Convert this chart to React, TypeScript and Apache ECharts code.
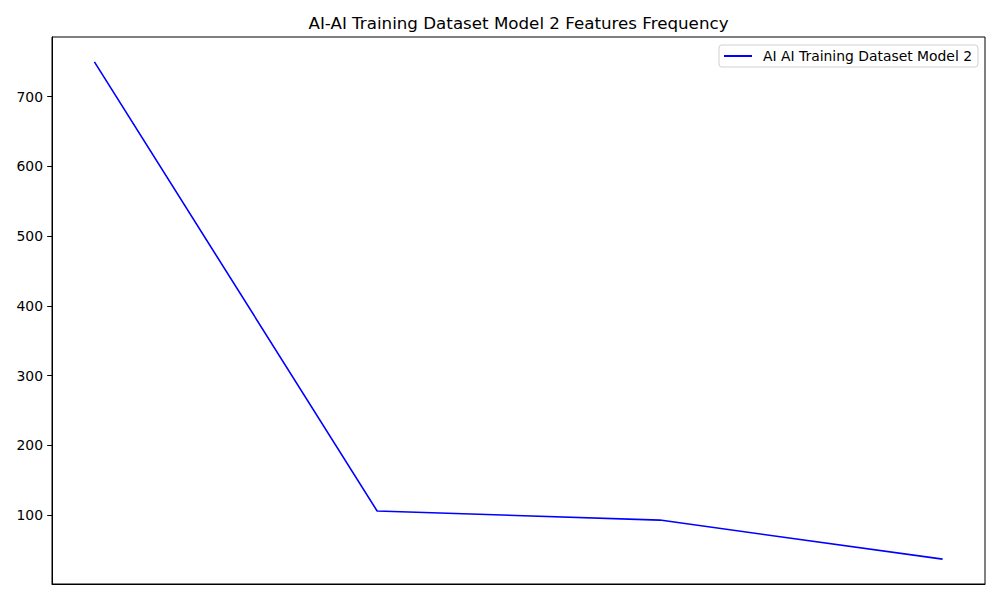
import React, { useEffect, useRef } from "react";
import * as echarts from "echarts";

const categories = ["Feature 1", "Feature 2", "Feature 3", "Feature 4"];
const frequencies = [750, 106, 93, 37];
const yTicks = [100, 200, 300, 400, 500, 600, 700];
const seriesName = "AI AI Training Dataset Model 2";
const titleText = "AI-AI Training Dataset Model 2 Features Frequency";

export default function App() {
  const ref = useRef<HTMLDivElement>(null);
  useEffect(() => {
    if (!ref.current) return;
    const chart = echarts.init(ref.current, undefined, { renderer: "svg" });
    const data = frequencies.map((v, i) => [i, v]);
    const lo = Math.min(...frequencies);
    const hi = Math.max(...frequencies);
    const pad = (hi - lo) * 0.05;
    const n = categories.length - 1;
    const font = "DejaVu Sans";
    chart.setOption({
      animation: false,
      backgroundColor: "#fff",
      textStyle: { fontFamily: font },
      grid: {
        left: 52,
        right: 15,
        top: 37,
        bottom: 16,
        show: true,
        borderColor: "#000",
        borderWidth: 1,
        containLabel: false,
      },
      graphic: [
        {
          type: "text",
          x: 518.5,
          y: 23,
          style: {
            text: titleText,
            fontFamily: font,
            fontSize: 16.7,
            fill: "#000",
            textAlign: "center",
            textVerticalAlign: "middle",
          },
        },
      ],
      legend: {
        right: 22,
        top: 45,
        padding: [4, 6, 4, 5],
        borderColor: "#d0d0d0",
        borderWidth: 1,
        borderRadius: 3,
        itemWidth: 28,
        itemHeight: 14,
        data: [{ name: seriesName, icon: "path://M0,0 L28,0 L28,2 L0,2 Z" }],
        textStyle: { fontFamily: font, fontSize: 13.9, color: "#000", padding: [0, 0, 0, 6] },
      },
      xAxis: {
        type: "value",
        min: -0.05 * n,
        max: n + 0.05 * n,
        axisLabel: { show: false },
        axisTick: { show: false },
        splitLine: { show: false },
        axisLine: { show: true, onZero: false, lineStyle: { color: "#000" } },
      },
      yAxis: {
        type: "value",
        min: lo - pad,
        max: hi + pad,
        splitLine: { show: false },
        axisLine: { show: true, onZero: false, lineStyle: { color: "#000" } },
        axisTick: {
          show: true,
          length: 4.8,
          customValues: yTicks,
          lineStyle: { color: "#000" },
        },
        axisLabel: {
          customValues: yTicks,
          fontFamily: font,
          fontSize: 13.9,
          color: "#000",
          margin: 9,
        },
      },
      series: [
        {
          name: seriesName,
          type: "line",
          data,
          symbol: "none",
          lineStyle: { color: "#0000ff", width: 1.6 },
          itemStyle: { color: "#0000ff" },
        },
      ],
    });
    return () => chart.dispose();
  }, []);
  return (
    <div
      ref={ref}
      style={{ position: "fixed", left: 0, top: 0, width: 1000, height: 600 }}
    />
  );
}
